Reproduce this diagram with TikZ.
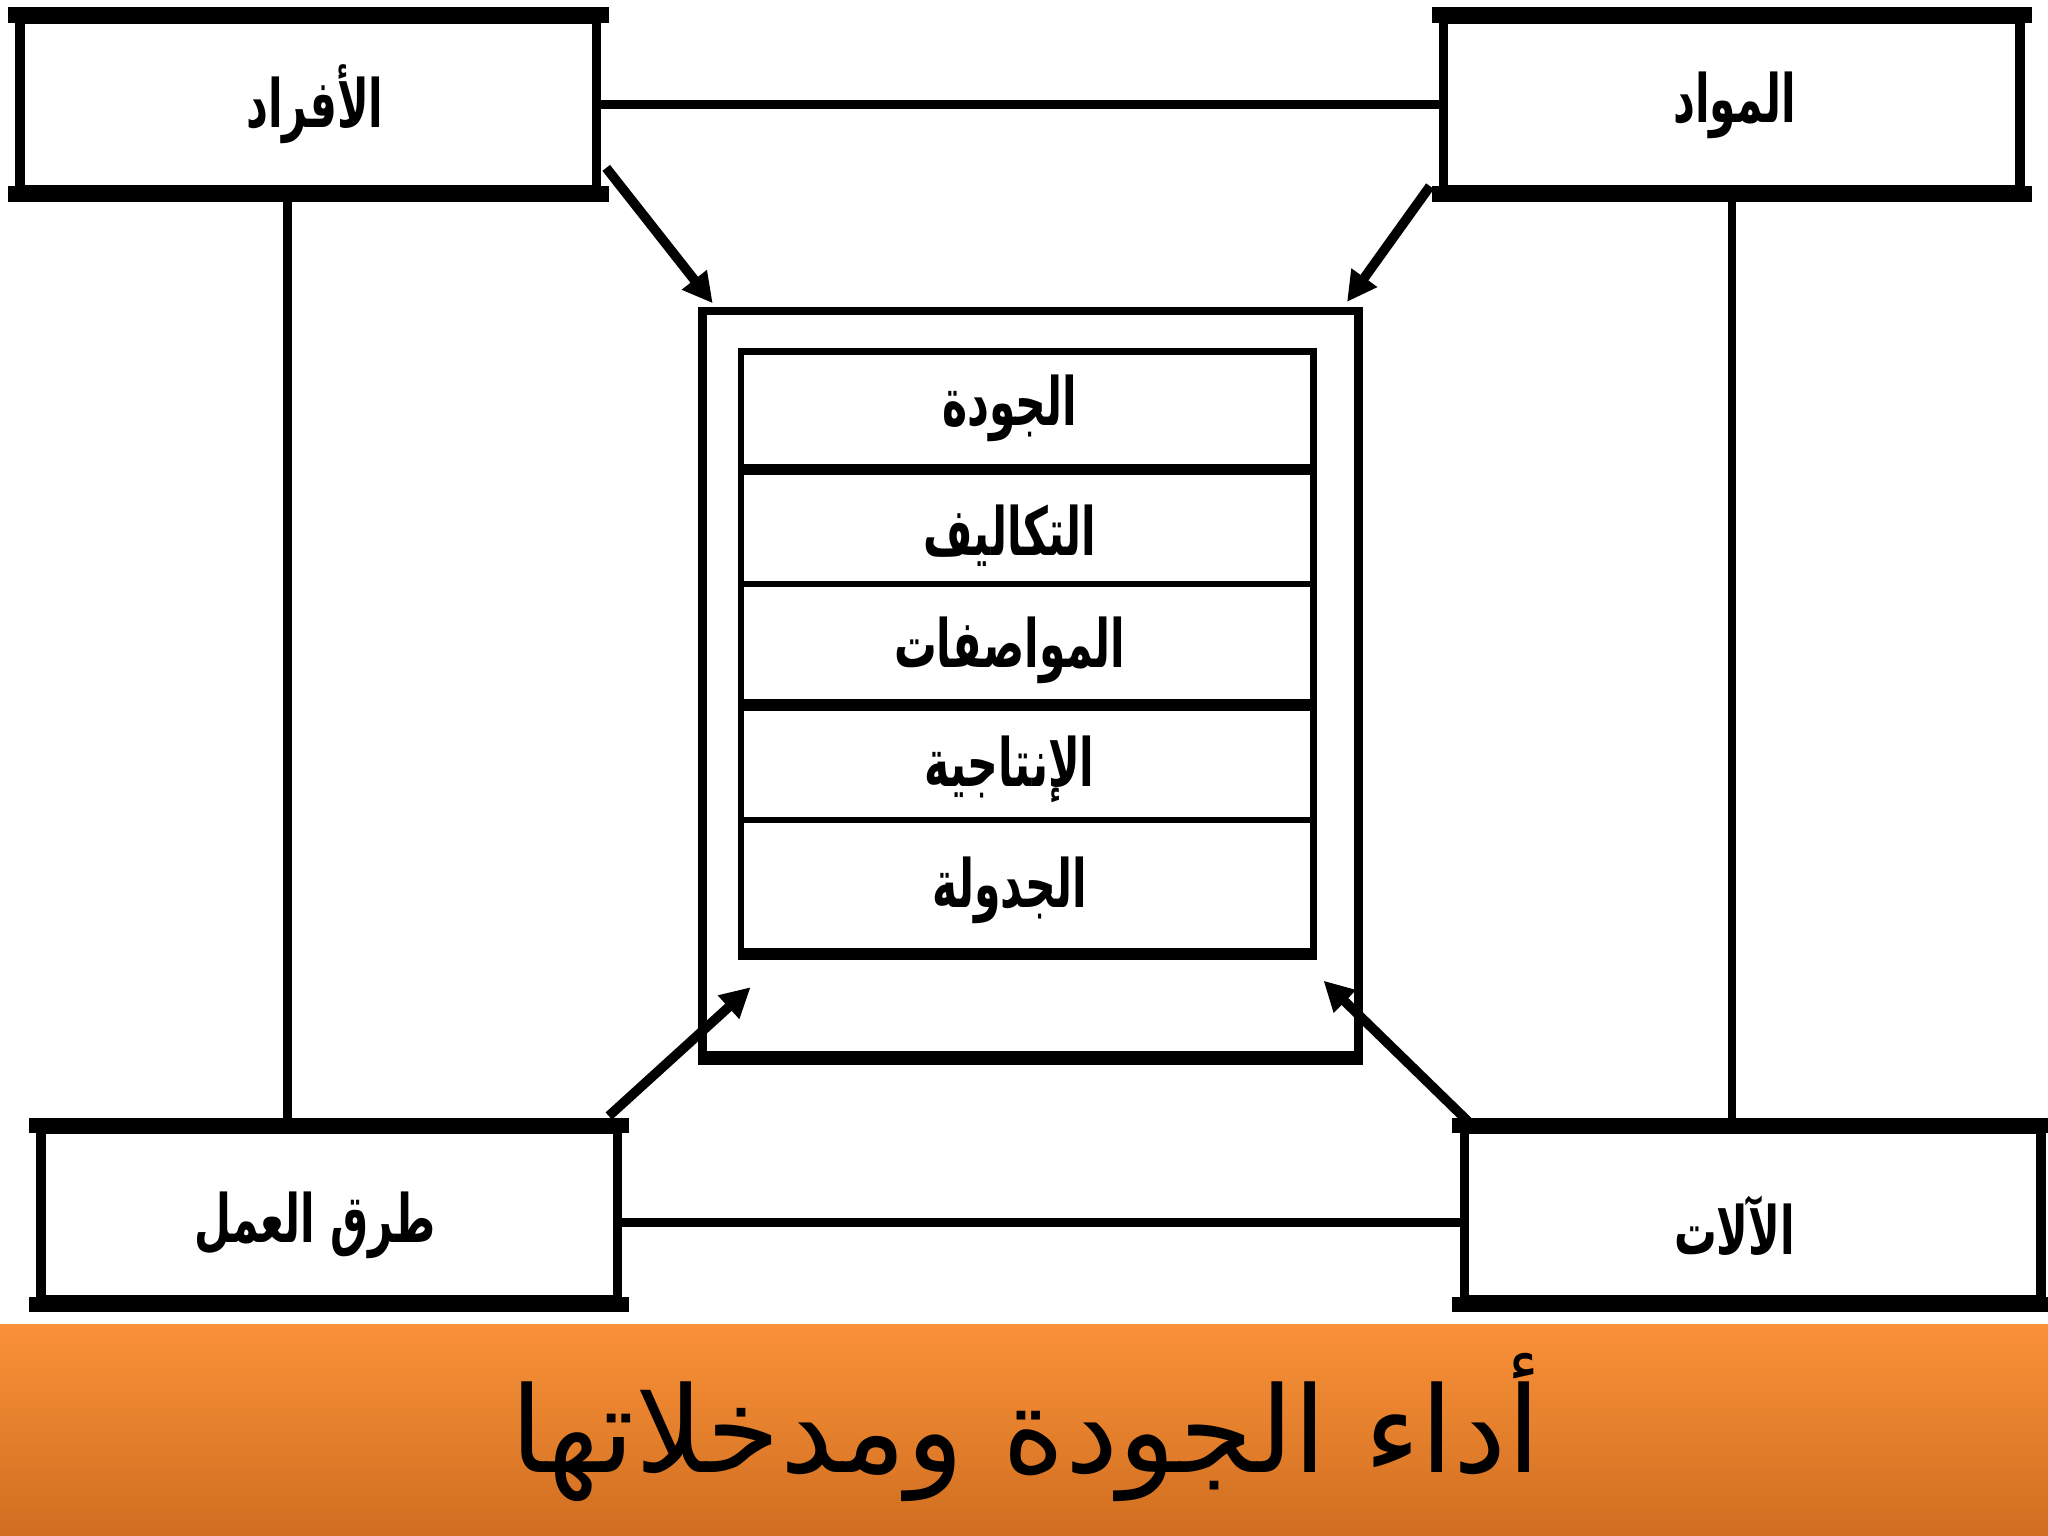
\documentclass[tikz,border=0pt]{standalone}
\usepackage{fontspec}
\usetikzlibrary{arrows.meta,calc}
\TeXXeTstate=1
\newfontfamily\arabicfont[Script=Arabic]{DejaVu Sans}
\definecolor{barTop}{RGB}{250,145,56}
\definecolor{barBot}{RGB}{207,110,32}
\newcommand{\arlabel}[1]{\scalebox{0.64}[1]{\beginR #1\endR}}
\begin{document}
\begin{tikzpicture}[x=0.01cm,y=-0.01cm,
  outerbox/.style={draw=black, line width=2pt, fill=white, minimum width=4.41cm,
    minimum height=1.30cm, inner sep=0pt},
  rowbox/.style={draw=black, line width=1.4pt, minimum width=4.38cm, inner sep=0pt},
  lbl/.style={inner sep=0pt, font=\arabicfont\bfseries\fontsize{14.5}{17}\selectfont},
  link/.style={line width=1.9pt},
  thickbar/.style={line width=3.3pt, line cap=rect},
  arr/.style={line width=2.1pt, -{Triangle[length=6.5pt,width=6.5pt]}}
]
\useasboundingbox (0,0) rectangle (1568,1176);
\fill[white] (0,0) rectangle (1568,1176);

% outer boxes
\node[outerbox] (TL) at (236,80) {};
\node[outerbox] (TR) at (1326,80) {};
\node[outerbox] (BL) at (252,930) {};
\node[outerbox] (BR) at (1342,930) {};
\foreach \n in {TL,TR,BL,BR}{
  \draw[thickbar] (\n.north west) -- (\n.north east);
  \draw[thickbar] (\n.south west) -- (\n.south east);
}
\node[lbl] (TLt) at (241,80) {\arlabel{الأفراد}};
\node[lbl] (TRt) at (1328,81) {\arlabel{المواد}};
\node[lbl] (BLt) at (241,938) {\arlabel{طرق العمل}};
\node[lbl] (BRt) at (1328,938) {\arlabel{الآلات}};

% links between outer boxes
\draw[link] (TL.east) -- (TR.west);
\draw[link] ([yshift=-0.06cm]BL.east) -- ([yshift=-0.06cm]BR.west);
\draw[link] ([xshift=-0.16cm]TL.south) -- ([xshift=-0.16cm]TL.south |- BL.north);
\draw[link] (TR.south) -- (TR.south |- BR.north);

% central frame
\node[draw=black, line width=1.8pt, minimum width=5.02cm, minimum height=5.69cm, inner sep=0pt] (frame) at (789,523) {};
\draw[line width=2.6pt] (frame.south west) -- (frame.south east);

% rows
\node[rowbox, minimum height=0.89cm] (r1) at (786.5,313.5) {};
\node[rowbox, minimum height=0.89cm] (r2) at (786.5,402.5) {};
\node[rowbox, minimum height=0.91cm] (r3) at (786.5,492.5) {};
\node[rowbox, minimum height=0.90cm] (r4) at (786.5,583) {};
\node[rowbox, minimum height=1.00cm] (r5) at (786.5,678) {};
\draw[line width=2pt] (r1.south west) -- (r1.south east);
\draw[line width=2pt] (r3.south west) -- (r3.south east);
\draw[line width=2.6pt] (r5.south west) -- (r5.south east);
\node[lbl] (r1t) at (773,313) {\arlabel{الجودة}};
\node[lbl] (r2t) at (773,410) {\arlabel{التكاليف}};
\node[lbl] (r3t) at (773,498) {\arlabel{المواصفات}};
\node[lbl] (r4t) at (773,589) {\arlabel{الإنتاجية}};
\node[lbl] (r5t) at (773,682) {\arlabel{الجدولة}};

% arrows
\draw[arr] ([shift={(4,-20)}]TL.south east) -- ([shift={(11,-3)}]frame.north west);
\draw[arr] ([shift={(-7,-6)}]TR.south west) -- ([shift={(-12,-4)}]frame.north east);
\draw[arr] ([shift={(-10,-7)}]BL.north east) -- ([shift={(40,-55)}]frame.south west);
\draw[arr] ([shift={(7,-2)}]BR.north west) -- ([shift={(-30,-60)}]frame.south east);

% title bar
\shade[top color=barTop, bottom color=barBot] (0,1014) rectangle (1568,1176);
\node[font=\arabicfont\fontsize{26}{30}\selectfont, inner sep=0pt] (title) at (785,1093) {\beginR أداء الجودة ومدخلاتها\endR};
\end{tikzpicture}
\end{document}
